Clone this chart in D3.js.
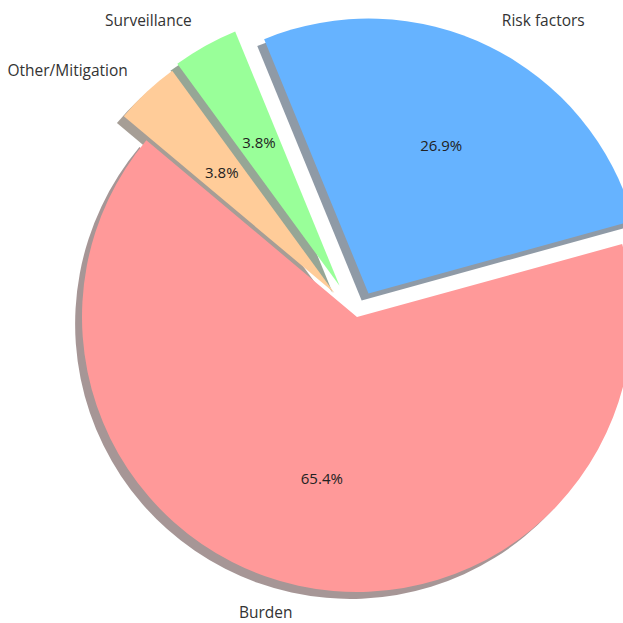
<!DOCTYPE html>
<html>
<head>
<meta charset="utf-8">
<script src="https://cdn.jsdelivr.net/npm/d3@7"></script>
<style>
  html, body { margin: 0; padding: 0; background: #fff; }
  svg { display: block; }
</style>
</head>
<body>
<div class="pie-container"></div>
<script>
// données du graphique
const categories = ['Burden', 'Risk factors', 'Surveillance', 'Other/Mitigation'];
const counts = [17, 7, 1, 1];
const colors = ['#ff9999', '#66b3ff', '#99ff99', '#ffcc99'];
const explode = [0, 0.095, 0.13, 0.12];

const width = 623, height = 623;
const cx = 357, cy = 317, radius = 275;
const startAngle = 140; // degrés, sens antihoraire comme matplotlib

const svg = d3.select('.pie-container')
    .append('svg')
    .attr('width', width)
    .attr('height', height);

const total = d3.sum(counts);
const toRad = d => d * Math.PI / 180;

// angles à la manière de matplotlib (0° = droite, antihoraire)
let acc = startAngle;
const slices = counts.map((v, i) => {
    const a0 = acc;
    const a1 = acc + 360 * v / total;
    acc = a1;
    const mid = toRad((a0 + a1) / 2);
    return {
        label: categories[i],
        value: v,
        color: colors[i],
        explode: explode[i],
        // d3.arc : 0 = haut, horaire -> conversion
        startAngle: toRad(90 - a1),
        endAngle: toRad(90 - a0),
        ux: Math.cos(mid),
        uy: -Math.sin(mid)
    };
});

const arc = d3.arc().innerRadius(0).outerRadius(radius);
const pct = d3.format('.1f');
const shadowOff = 0.025 * radius;

const g = svg.append('g').attr('transform', `translate(${cx},${cy})`);

// ombres sous toutes les parts
g.selectAll('.shadow')
    .data(slices)
    .enter()
    .append('path')
    .attr('class', 'shadow')
    .attr('d', arc)
    .attr('transform', d => `translate(${d.ux * d.explode * radius - shadowOff},${d.uy * d.explode * radius + shadowOff})`)
    .attr('fill', d => {
        const c = d3.rgb(d.color);
        return d3.rgb(c.r * 0.3, c.g * 0.3, c.b * 0.3);
    })
    .attr('fill-opacity', 0.5);

// parts
g.selectAll('.slice')
    .data(slices)
    .enter()
    .append('path')
    .attr('class', 'slice')
    .attr('d', arc)
    .attr('transform', d => `translate(${d.ux * d.explode * radius},${d.uy * d.explode * radius})`)
    .attr('fill', d => d.color);

// étiquettes extérieures
g.selectAll('.label')
    .data(slices)
    .enter()
    .append('text')
    .attr('class', 'label')
    .attr('x', d => d.ux * (d.explode + 1.1) * radius)
    .attr('y', d => d.uy * (d.explode + 1.1) * radius)
    .attr('dy', d => d.uy < 0 ? '-0.15em' : '-0.05em')
    .attr('text-anchor', d => d.ux > 0 ? 'start' : 'end')
    .attr('dominant-baseline', 'central')
    .attr('font-family', '"Open Sans", sans-serif')
    .attr('font-size', 15.5)
    .attr('fill', '#333')
    .text(d => d.label);

// pourcentages
g.selectAll('.pct')
    .data(slices)
    .enter()
    .append('text')
    .attr('class', 'pct')
    .attr('x', d => d.ux * (d.explode + 0.6) * radius)
    .attr('y', d => d.uy * (d.explode + 0.6) * radius)
    .attr('text-anchor', 'middle')
    .attr('dominant-baseline', 'central')
    .attr('font-family', '"Open Sans", sans-serif')
    .attr('font-size', 15)
    .attr('fill', '#222')
    .text(d => pct(100 * d.value / total) + '%');
</script>
</body>
</html>
